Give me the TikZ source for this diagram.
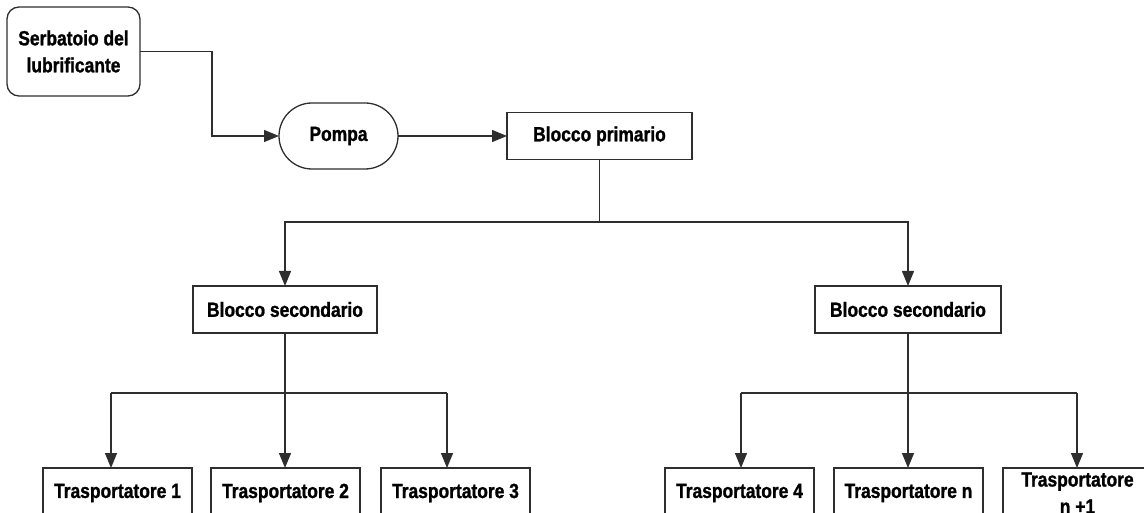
\documentclass[tikz,border=0pt]{standalone}
\usepackage{fontspec}
\setmainfont{Liberation Sans}[FakeStretch=0.85, BoldFeatures={FakeBold=1.2}]
\usetikzlibrary{arrows.meta}
\definecolor{linec}{HTML}{2E2E2E}
\begin{document}
\begin{tikzpicture}[x=1pt, y=-1pt, line width=1.3pt,
  every node/.style={font=\fontsize{20.5}{27}\selectfont\bfseries,
    inner sep=0pt, outer sep=0pt, align=center, text=black},
  box/.style={draw=linec, minimum width=#1, minimum height=47pt},
  box/.default=149pt,
  lowbox/.style={draw=linec, minimum width=149pt, minimum height=50pt},
  tankbox/.style={draw=linec, minimum width=133pt, minimum height=89pt, rounded corners=12pt},
  pumpbox/.style={draw=linec, minimum width=119pt, minimum height=66pt, rounded corners=33pt},
  wire/.style={draw=linec},
  arr/.style={draw=linec, -{Triangle[length=15pt, width=12pt]}}
]
\useasboundingbox (0,0) rectangle (1144,513);
\clip (0,0) rectangle (1144,513);

% supply side
\node[tankbox] (tank) at (73.5,51.5) {Serbatoio del\\lubrificante};
\node[pumpbox] (pump) at (338.5,136) {Pompa};
\node[box=185pt] (prim) at (599.5,136) {Blocco primario};

% secondary blocks
\node[box=184pt] (secL) at (285,309.5) {Blocco secondario};
\node[box=186pt] (secR) at (908,309.5) {Blocco secondario};

% conveyors
\node[lowbox] (t1) at (117.5,493) {Trasportatore 1};
\node[lowbox] (t2) at (285.5,493) {Trasportatore 2};
\node[lowbox] (t3) at (455.5,493) {Trasportatore 3};
\node[lowbox] (t4) at (739.5,493) {Trasportatore 4};
\node[lowbox] (tn) at (908.5,493) {Trasportatore n};
\node[lowbox] (tn1) at (1077.5,493) {Trasportatore\\n +1};

% tank -> pump -> primary block
\coordinate (bend) at (212,136);
\draw[arr] (tank.east) -| (bend) -- (pump.west);
\draw[arr] (pump.east) -- (prim.west);

% primary block -> secondary blocks
\coordinate (splitA) at (599.5,222);
\draw[wire] (prim.south) -- (splitA);
\draw[arr] (splitA) -| (secL.north);
\draw[arr] (splitA) -| (secR.north);

% left secondary block -> conveyors 1..3
\coordinate (a1) at (111,393);
\coordinate (a2) at (285,393);
\coordinate (a3) at (447,393);
\draw[wire] (secL.south) -- (a2);
\draw[wire] (a1) -- (a3);
\draw[arr] (a1) -- (a1 |- t1.north);
\draw[arr] (a2) -- (a2 |- t2.north);
\draw[arr] (a3) -- (a3 |- t3.north);

% right secondary block -> conveyors 4..n+1
\coordinate (b1) at (741,393);
\coordinate (b2) at (908,393);
\coordinate (b3) at (1077,393);
\draw[wire] (secR.south) -- (b2);
\draw[wire] (b1) -- (b3);
\draw[arr] (b1) -- (b1 |- t4.north);
\draw[arr] (b2) -- (b2 |- tn.north);
\draw[arr] (b3) -- (b3 |- tn1.north);
\end{tikzpicture}
\end{document}
